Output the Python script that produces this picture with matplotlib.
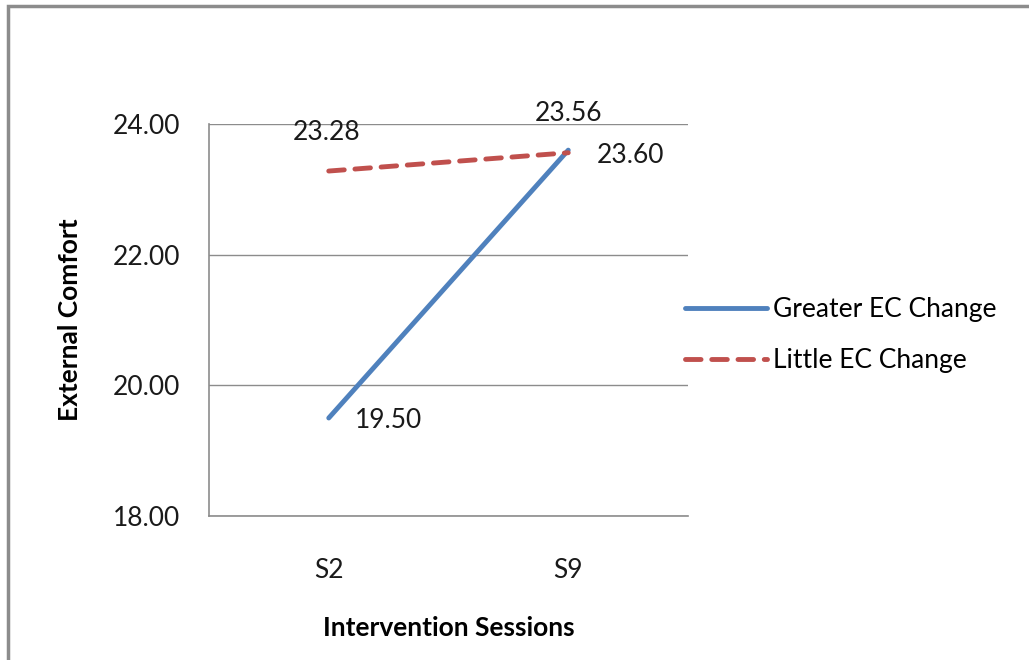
import matplotlib.pyplot as plt
from matplotlib.patches import Rectangle

# Data
sessions = ["S2", "S9"]
greater_ec = [19.50, 23.60]
little_ec = [23.28, 23.56]
y_ticks = [18, 20, 22, 24]

plt.rcParams['font.family'] = ['Lato', 'DejaVu Sans']

fig = plt.figure(figsize=(10.29, 6.6), dpi=100)

# grey frame around the chart
fig.patches.append(Rectangle((8 / 1029, -0.05), 1.1, (660 - 6) / 660 + 0.05,
                             transform=fig.transFigure, fill=False,
                             edgecolor="#8c8c8c", linewidth=2.5))

ax = fig.add_axes([209 / 1029, 144 / 660, 479 / 1029, 392 / 660])

x = range(len(sessions))
ax.plot(x, greater_ec, color="#4F81BD", linewidth=3.5, label="Greater EC Change",
        solid_capstyle="round")
ax.plot(x, little_ec, color="#C0504D", linewidth=3.5, linestyle=(0, (3.2, 2.2)),
        label="Little EC Change", dash_capstyle="round")

ax.set_xlim(-0.5, 1.5)
ax.set_ylim(18, 24)
ax.set_yticks(y_ticks)
ax.set_yticklabels([f"{v:.2f}" for v in y_ticks])
ax.set_xticks(list(x))
ax.set_xticklabels(sessions)
ax.tick_params(axis="both", length=0, labelsize=19, colors="#1a1a1a")
ax.tick_params(axis="y", pad=21)
ax.tick_params(axis="x", pad=30)

ax.grid(axis="y", color="#8c8c8c", linewidth=1)
ax.set_axisbelow(True)
for side in ["top", "right"]:
    ax.spines[side].set_visible(False)
for side in ["left", "bottom"]:
    ax.spines[side].set_color("#8c8c8c")
    ax.spines[side].set_linewidth(1.2)

ax.set_xlabel("Intervention Sessions", fontsize=19, fontweight="bold", labelpad=24)
ax.set_ylabel("External Comfort", fontsize=19, fontweight="bold", labelpad=22)

# data labels
lab = dict(textcoords="offset pixels", fontsize=19, color="#1a1a1a", va="center")
ax.annotate(f"{little_ec[0]:.2f}", (0, little_ec[0]), xytext=(-2, 39), ha="center", **lab)
ax.annotate(f"{little_ec[1]:.2f}", (1, little_ec[1]), xytext=(0, 39), ha="center", **lab)
ax.annotate(f"{greater_ec[1]:.2f}", (1, greater_ec[1]), xytext=(28, -5), ha="left", **lab)
ax.annotate(f"{greater_ec[0]:.2f}", (0, greater_ec[0]), xytext=(26, -2), ha="left", **lab)

fig.legend(loc="center left", bbox_to_anchor=(685 / 1029, (660 - 335) / 660),
           frameon=False, fontsize=19, handlelength=3.1, handletextpad=0.25,
           labelspacing=1.0, borderpad=0, borderaxespad=0)

fig.savefig("out.png", dpi=100)
